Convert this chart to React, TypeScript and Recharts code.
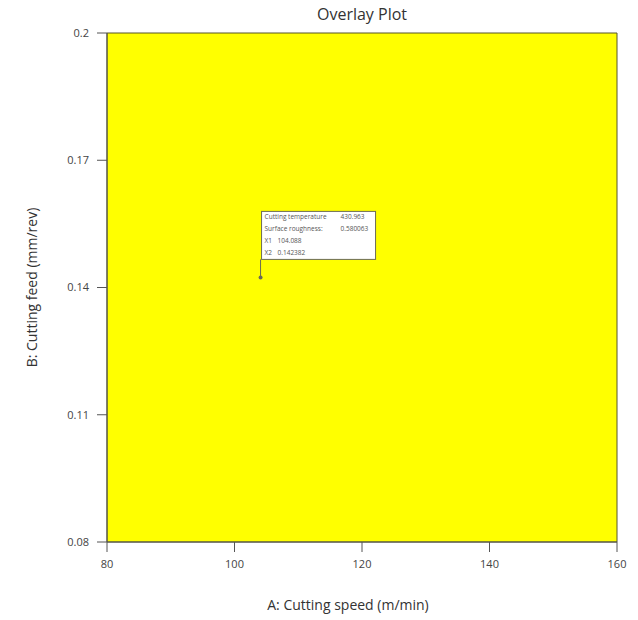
import React from "react";
import {
  ScatterChart,
  Scatter,
  XAxis,
  YAxis,
  ReferenceArea,
  Label,
} from "recharts";

const xTicks = [80, 100, 120, 140, 160];
const yTicks = [0.08, 0.11, 0.14, 0.17, 0.2];
const flagPoint = [{ x: 104.088, y: 0.142382 }];
const flagLines = [
  ["Cutting temperature", "430.963"],
  ["Surface roughness:", "0.580063"],
  ["X1", "104.088"],
  ["X2", "0.142382"],
];

const font = "'Open Sans', 'Noto Sans', sans-serif";

const FlagShape = (props: any) => {
  const { cx, cy } = props;
  const bx = cx + 1;
  const by = cy - 66;
  return (
    <g>
      <line x1={cx} y1={cy} x2={cx} y2={cy - 18} stroke="#6b6b55" strokeWidth={1} />
      <circle cx={cx} cy={cy} r={2} fill="#6b6b55" />
      <rect x={bx} y={by} width={114} height={48} fill="#fff" stroke="#6b6b55" strokeWidth={1} />
      {flagLines.map((l, i) => (
        <g key={i}>
          <text x={bx + 3} y={by + 8 + i * 12} fontSize={6.5} fill="#555" fontFamily={font}>
            {l[0]}
          </text>
          <text
            x={i < 2 ? bx + 79 : bx + 16}
            y={by + 8 + i * 12}
            fontSize={6.5}
            fill="#555"
            fontFamily={font}
          >
            {l[1]}
          </text>
        </g>
      ))}
    </g>
  );
};

export default function App() {
  return (
    <div style={{ position: "absolute", left: 0, top: 0, width: 638, height: 620, background: "#fff" }}>
      <div
        style={{
          position: "absolute",
          left: 0,
          top: 3,
          width: 724,
          textAlign: "center",
          fontFamily: font,
          fontSize: 16,
          color: "#333",
        }}
      >
        Overlay Plot
      </div>
      <ScatterChart width={638} height={620} margin={{ top: 33, right: 21, left: 0, bottom: 0 }}>
        <XAxis
          type="number"
          dataKey="x"
          domain={[80, 160]}
          ticks={xTicks}
          height={78}
          tickSize={10}
          tickMargin={8}
          stroke="#555"
          tick={{ fill: "#444", fontSize: 11, fontFamily: font }}
          allowDataOverflow
        >
          <Label
            value="A: Cutting speed (m/min)"
            position="center"
            dy={24}
            dx={-14}
            style={{ fill: "#333", fontSize: 14, fontFamily: font }}
          />
        </XAxis>
        <YAxis
          type="number"
          dataKey="y"
          domain={[0.08, 0.2]}
          ticks={yTicks}
          width={107}
          tickSize={10}
          tickMargin={8}
          stroke="#555"
          tickFormatter={(v: number) => String(Number(v.toFixed(2)))}
          tick={{ fill: "#444", fontSize: 11, fontFamily: font }}
          allowDataOverflow
        >
          <Label
            value="B: Cutting feed (mm/rev)"
            position="center"
            angle={-90}
            dx={-21}
            style={{ fill: "#333", fontSize: 14, fontFamily: font, textAnchor: "middle" }}
          />
        </YAxis>
        <ReferenceArea
          x1={80}
          x2={160}
          y1={0.08}
          y2={0.2}
          fill="#ffff00"
          fillOpacity={1}
          stroke="#55552a"
          strokeWidth={1}
          ifOverflow="visible"
        />
        <Scatter data={flagPoint} shape={FlagShape} isAnimationActive={false} />
      </ScatterChart>
    </div>
  );
}
